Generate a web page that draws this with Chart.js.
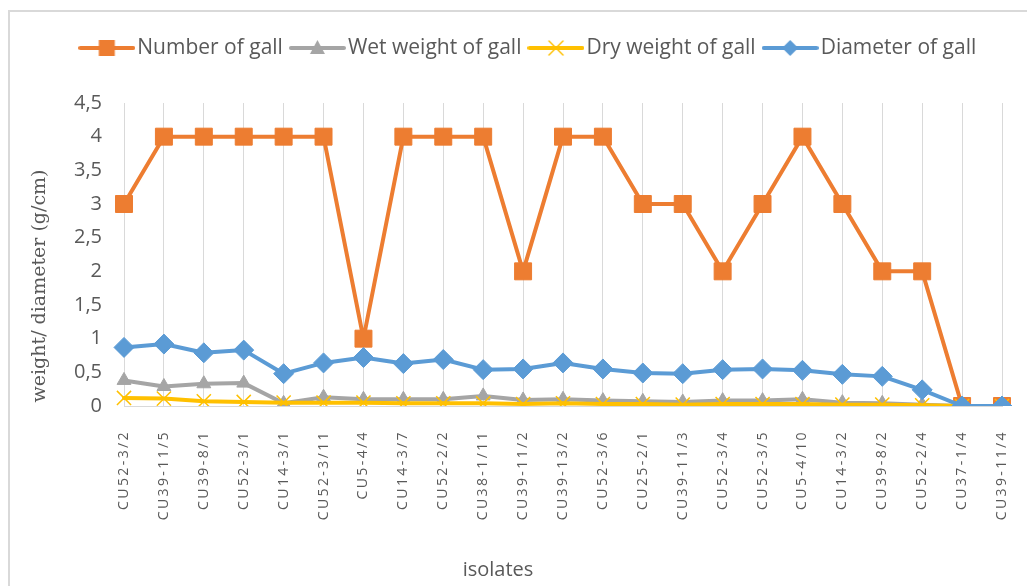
<!DOCTYPE html>
<html>
<head>
<meta charset="utf-8">
<script src="https://cdn.jsdelivr.net/npm/chart.js@4/dist/chart.umd.min.js"></script>
<style>
  html, body { margin: 0; padding: 0; background: #ffffff; overflow: hidden; }
  #frame { position: absolute; left: 8px; top: 10px; width: 1200px; height: 800px; border: 2px solid #D9D9D9; box-sizing: border-box; }
  #c { position: absolute; left: 0; top: 0; }
</style>
</head>
<body>
<div id="frame"></div>
<canvas id="c" width="1027" height="586"></canvas>
<script>
const categories = ['CU52-3/2','CU39-11/5','CU39-8/1','CU52-3/1','CU14-3/1','CU52-3/11','CU5-4/4','CU14-3/7','CU52-2/2','CU38-1/11','CU39-11/2','CU39-13/2','CU52-3/6','CU25-2/1','CU39-11/3','CU52-3/4','CU52-3/5','CU5-4/10','CU14-3/2','CU39-8/2','CU52-2/4','CU37-1/4','CU39-11/4'];
const numberOfGall = [3,4,4,4,4,4,1,4,4,4,2,4,4,3,3,2,3,4,3,2,2,0,0];
const wetWeight = [0.38,0.29,0.33,0.34,0.04,0.13,0.10,0.10,0.10,0.15,0.09,0.10,0.08,0.07,0.06,0.08,0.08,0.10,0.05,0.04,0.02,0,0];
const dryWeight = [0.12,0.11,0.07,0.06,0.05,0.05,0.05,0.04,0.04,0.04,0.03,0.04,0.03,0.03,0.02,0.03,0.03,0.03,0.02,0.02,0.01,0,0];
const diameterOfGall = [0.87,0.92,0.79,0.83,0.48,0.64,0.72,0.63,0.69,0.54,0.55,0.64,0.55,0.49,0.48,0.54,0.55,0.53,0.47,0.44,0.24,0,0];
const yTickLabels = ['0','0,5','1','1,5','2','2,5','3','3,5','4','4,5'];
const seriesNames = ['Number of gall','Wet weight of gall','Dry weight of gall','Diameter of gall'];
const yTitle = 'weight/ diameter (g/cm)';
const xTitle = 'isolates';

const COLORS = ['#ED7D31','#A5A5A5','#FFC000','#5B9BD5'];
const TEXT = '#595959';
const FONT = '"Open Sans"';

function legendSample(color, shape) {
  const cv = document.createElement('canvas');
  cv.width = 57; cv.height = 20;
  const g = cv.getContext('2d');
  g.strokeStyle = color; g.fillStyle = color; g.lineWidth = 4; g.lineCap = 'round';
  g.beginPath(); g.moveTo(2, 10); g.lineTo(55, 10); g.stroke();
  const cx = 28.5, cy = 10;
  g.beginPath();
  if (shape === 'rect') { g.fillRect(cx - 8, cy - 8, 16, 16); }
  else if (shape === 'triangle') { g.moveTo(cx, cy - 8); g.lineTo(cx + 7.5, cy + 6); g.lineTo(cx - 7.5, cy + 6); g.closePath(); g.fill(); }
  else if (shape === 'crossRot') { g.lineWidth = 1.5; g.moveTo(cx - 7, cy - 7); g.lineTo(cx + 7, cy + 7); g.moveTo(cx + 7, cy - 7); g.lineTo(cx - 7, cy + 7); g.stroke(); }
  else if (shape === 'rectRot') { g.moveTo(cx, cy - 8); g.lineTo(cx + 8, cy); g.lineTo(cx, cy + 8); g.lineTo(cx - 8, cy); g.closePath(); g.fill(); }
  return cv;
}
const shapes = ['rect','triangle','crossRot','rectRot'];
const samples = shapes.map((s, i) => legendSample(COLORS[i], s));

const fixPlugin = {
  id: 'fixPlugin',
  beforeUpdate(chart) {
    const lg = chart.legend;
    if (lg && !lg._patched) {
      const f = lg.fit;
      lg.fit = function () { f.call(this); this.height += 34.5; };
      lg._patched = true;
    }
  },
  beforeDraw(chart) {
    const s = chart.scales.x;
    if (s && !s._patched) {
      const orig = s.drawLabels;
      s.drawLabels = function (area) {
        const ctx = this.ctx;
        ctx.save();
        ctx.letterSpacing = '2.4px';
        orig.call(this, area);
        ctx.restore();
      };
      s._patched = true;
    }
  },
  afterDraw(chart) {
    const ctx = chart.ctx;
    ctx.save();
    ctx.fillStyle = TEXT;
    ctx.textAlign = 'center';
    ctx.textBaseline = 'middle';
    ctx.font = '19px "DejaVu Serif"';
    ctx.translate(40, 286);
    ctx.rotate(-Math.PI / 2);
    ctx.fillText(yTitle, 0, 0);
    ctx.restore();
    ctx.save();
    ctx.fillStyle = TEXT;
    ctx.textAlign = 'center';
    ctx.textBaseline = 'middle';
    ctx.font = '20px ' + FONT;
    ctx.fillText(xTitle, 498, 570);
    ctx.restore();
  }
};

const datasets = [
  { label: seriesNames[0], data: numberOfGall, pointStyle: 'rect', pointRadius: 12, order: 4 },
  { label: seriesNames[1], data: wetWeight, pointStyle: 'triangle', pointRadius: 8, order: 3 },
  { label: seriesNames[2], data: dryWeight, pointStyle: 'crossRot', pointRadius: 10, order: 2 },
  { label: seriesNames[3], data: diameterOfGall, pointStyle: 'rectRot', pointRadius: 10, order: 1 }
].map((d, i) => Object.assign(d, {
  borderColor: COLORS[i],
  backgroundColor: COLORS[i],
  pointBackgroundColor: COLORS[i],
  pointBorderColor: COLORS[i],
  pointBorderWidth: i === 2 ? 1.5 : 1,
  borderWidth: 4,
  borderJoinStyle: 'round',
  borderCapStyle: 'round',
  tension: 0,
  fill: false
}));

new Chart(document.getElementById('c'), {
  type: 'line',
  data: { labels: categories, datasets },
  options: {
    responsive: false,
    animation: false,
    events: [],
    layout: { padding: { left: 61, right: 25, top: 23, bottom: 0 } },
    plugins: {
      tooltip: { enabled: false },
      legend: {
        position: 'top',
        labels: {
          usePointStyle: true,
          pointStyleWidth: 40,
          padding: 14.5,
          color: TEXT,
          font: { family: 'Open Sans', size: 21 },
          generateLabels(chart) {
            return chart.data.datasets.map((ds, i) => ({
              text: ds.label,
              fillStyle: COLORS[i],
              strokeStyle: COLORS[i],
              fontColor: TEXT,
              lineWidth: 0,
              hidden: false,
              datasetIndex: i,
              pointStyle: samples[i]
            }));
          }
        }
      }
    },
    scales: {
      x: {
        offset: false,
        grid: { display: true, color: '#D9D9D9', lineWidth: 1, drawTicks: false },
        border: { display: true, color: '#D9D9D9', width: 1 },
        ticks: {
          autoSkip: false, maxRotation: 90, minRotation: 90, padding: 24,
          color: TEXT, font: { family: 'Open Sans', size: 14 }
        },
        afterFit(scale) { scale.height = 180; scale.paddingRight = 0; scale.paddingLeft = 0; }
      },
      y: {
        min: 0, max: 4.5,
        grid: { display: false, drawTicks: false },
        border: { display: false },
        ticks: {
          stepSize: 0.5, padding: 22, color: TEXT,
          font: { family: 'Open Sans', size: 20 },
          callback(value, index) { return yTickLabels[index]; }
        },
        afterFit(scale) { scale.width = 63; }
      }
    }
  },
  plugins: [fixPlugin]
});
</script>
</body>
</html>
